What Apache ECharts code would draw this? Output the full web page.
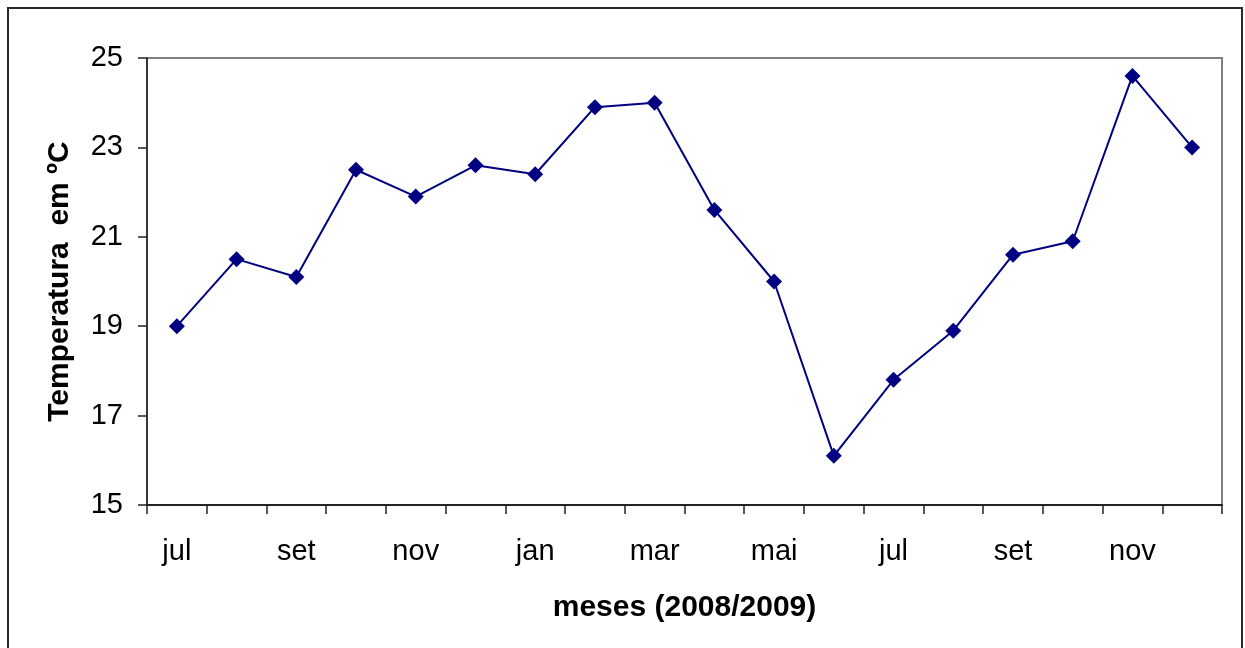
<!DOCTYPE html>
<html>
<head>
<meta charset="utf-8">
<script src="https://cdn.jsdelivr.net/npm/echarts@6/dist/echarts.min.js"></script>
<style>
  html, body { margin: 0; padding: 0; background: #fff; }
  #chart { width: 1245px; height: 648px; }
</style>
</head>
<body>
<div id="chart"></div>
<script>
// meses jul/2008 .. dez/2009
var months = ['jul', 'ago', 'set', 'out', 'nov', 'dez', 'jan', 'fev', 'mar', 'abr', 'mai', 'jun',
              'jul', 'ago', 'set', 'out', 'nov', 'dez'];
var temps = [19.0, 20.5, 20.1, 22.5, 21.9, 22.6, 22.4, 23.9, 24.0, 21.6, 20.0, 16.1,
             17.8, 18.9, 20.6, 20.9, 24.6, 23.0];
var yMin = 15, yMax = 25, yStep = 2;

var font = "'Liberation Sans', Arial, sans-serif";
var myChart = echarts.init(document.getElementById('chart'));

var option = {
    backgroundColor: '#fff',
    animation: false,
    textStyle: { fontFamily: font },
    graphic: [{
        type: 'rect',
        shape: { x: 8, y: 8, width: 1234, height: 700 },
        style: { fill: 'none', stroke: '#2a2a2a', lineWidth: 2 },
        silent: true
    }],
    grid: {
        left: 147, right: 23, top: 58, bottom: 143,
        show: true,
        borderColor: '#808080',
        borderWidth: 2,
        backgroundColor: '#fff'
    },
    xAxis: {
        type: 'category',
        data: months,
        boundaryGap: true,
        name: 'meses (2008/2009)',
        nameLocation: 'middle',
        nameGap: 88,
        nameTextStyle: { fontFamily: font, fontSize: 30, fontWeight: 'bold', color: '#000' },
        axisLine: { lineStyle: { color: '#222', width: 2 } },
        axisTick: { show: true, interval: 0, length: 9, inside: false, lineStyle: { color: '#222', width: 1.5 } },
        axisLabel: { interval: 1, margin: 32, fontSize: 29, color: '#000', fontFamily: font },
        splitLine: { show: false }
    },
    yAxis: {
        type: 'value',
        min: yMin, max: yMax, interval: yStep,
        name: 'Temperatura  em ºC',
        nameLocation: 'middle',
        nameGap: 72,
        nameTextStyle: { fontFamily: font, fontSize: 30, fontWeight: 'bold', color: '#000' },
        axisLine: { show: true, lineStyle: { color: '#222', width: 1.5 } },
        axisTick: { show: true, length: 9, inside: false, lineStyle: { color: '#222', width: 1.5 } },
        axisLabel: { margin: 24, fontSize: 29, color: '#000', fontFamily: font },
        splitLine: { show: false }
    },
    series: [{
        type: 'line',
        data: temps,
        symbol: 'diamond',
        symbolSize: 16,
        lineStyle: { color: '#000080', width: 2 },
        itemStyle: { color: '#000080' }
    }]
};

option && myChart.setOption(option);
</script>
</body>
</html>
